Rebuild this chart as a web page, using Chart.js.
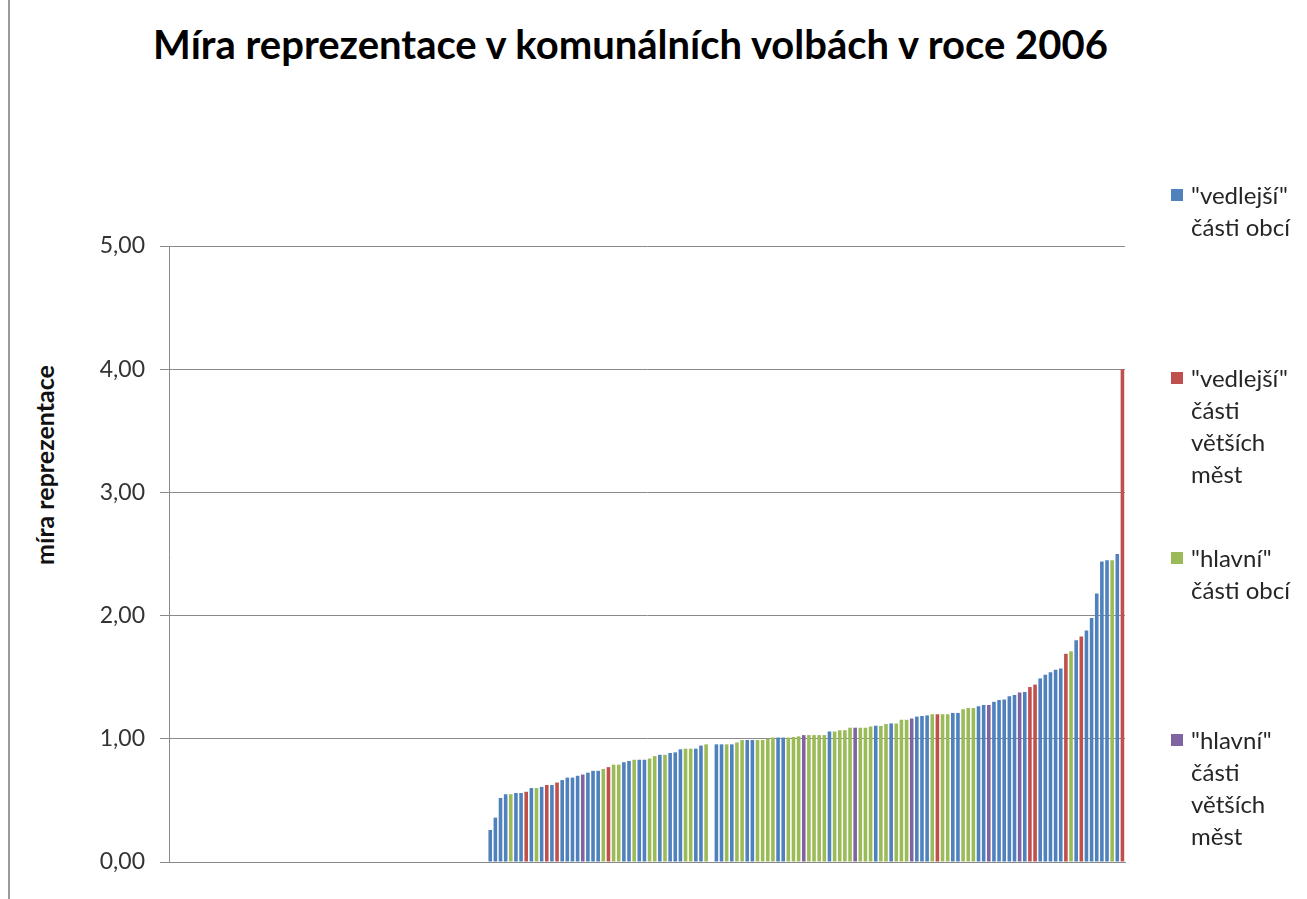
<!DOCTYPE html>
<html lang="cs">
<head>
<meta charset="utf-8">
<title>Míra reprezentace v komunálních volbách v roce 2006</title>
<script src="https://cdn.jsdelivr.net/npm/chart.js@4.4.1/dist/chart.umd.min.js"></script>
<style>
  html, body { margin: 0; padding: 0; background: #fff; }
  body { width: 1307px; height: 899px; position: relative; overflow: hidden; font-family: Lato, "Open Sans", sans-serif; }
  #frame { position: absolute; left: 8px; top: 0; width: 2px; height: 899px; background: #9a9a9a; }
  #title { position: absolute; left: 0; top: 20px; width: 1261px; margin: 0; text-align: center;
           font: bold 40px/48px Lato, sans-serif; color: #000; }
  #ytitle { position: absolute; left: 44px; top: 465px; margin: 0; white-space: nowrap;
            transform: translate(-50%, -50%) rotate(-90deg);
            font: bold 25px/30px Lato, sans-serif; color: #111; }
  #RepChart { position: absolute; left: 0; top: 0; }
  #legend { position: absolute; left: 1170px; top: 0; }
  .item { position: absolute; left: 0; width: 134px; font: 24px/32px Lato, sans-serif; color: #262626; }
  .item .box { position: absolute; left: 1px; top: 10px; width: 12px; height: 12px; }
  .item .txt { margin-left: 21px; width: 112px; }
</style>
</head>
<body>
<div id="frame"></div>
<h1 id="title">Míra reprezentace v komunálních volbách v roce 2006</h1>
<div id="ytitle">míra reprezentace</div>
<canvas id="RepChart" width="1307" height="899"></canvas>
<div id="legend"></div>
<script>
const seriesNames = ['"vedlejší" části obcí', '"vedlejší" části větších měst', '"hlavní" části obcí', '"hlavní" části větších měst'];
const seriesColors = ['#4F81BD', '#C0504D', '#9BBB59', '#8064A2'];
const yTicks = [0, 1, 2, 3, 4, 5];
// prázdné kategorie před prvním sloupcem
const emptyBefore = 62;
// seřazené hodnoty míry reprezentace
const values = [
  0.26, 0.36, 0.52, 0.55, 0.55, 0.56, 0.56, 0.57, 0.60, 0.60, 0.61, 0.625, 0.625, 0.645, 0.665, 0.685, 0.685, 0.70, 0.71, 0.725,
  0.74, 0.74, 0.755, 0.77, 0.79, 0.79, 0.81, 0.82, 0.83, 0.83, 0.83, 0.84, 0.86, 0.87, 0.87, 0.885, 0.89, 0.915, 0.92, 0.92,
  0.92, 0.945, 0.955, null, 0.955, 0.955, 0.955, 0.955, 0.97, 0.99, 0.99, 0.99, 0.99, 0.99, 1.00, 1.01, 1.01, 1.01, 1.01, 1.015,
  1.02, 1.03, 1.03, 1.03, 1.03, 1.03, 1.06, 1.06, 1.07, 1.07, 1.09, 1.09, 1.09, 1.09, 1.10, 1.105, 1.105, 1.12, 1.125, 1.125, 1.155,
  1.155, 1.165, 1.18, 1.185, 1.19, 1.20, 1.20, 1.20, 1.20, 1.21, 1.21, 1.24, 1.25, 1.25, 1.265, 1.275, 1.275, 1.30, 1.315, 1.32, 1.345,
  1.355, 1.375, 1.38, 1.42, 1.44, 1.49, 1.52, 1.54, 1.56, 1.57, 1.69, 1.71, 1.80, 1.83, 1.88, 1.98, 2.18, 2.44, 2.45, 2.45, 2.50, 4.00
];
// typ části obce pro každý sloupec (index do seriesNames)
const groups = [
  0, 0, 0, 0, 2, 0, 0, 1, 0, 2, 0, 1, 0, 1, 0, 0, 0, 0, 3, 0,
  0, 0, 2, 1, 2, 2, 0, 0, 2, 0, 0, 2, 2, 0, 2, 0, 0, 0, 2, 2,
  0, 0, 2, 0, 0, 0, 2, 0, 2, 2, 0, 0, 2, 2, 2, 2, 0, 0, 2, 2,
  2, 3, 2, 2, 2, 2, 0, 2, 2, 2, 2, 3, 2, 2, 2, 0, 2, 2, 0, 2, 2,
  2, 3, 0, 0, 0, 2, 1, 2, 2, 0, 0, 2, 2, 2, 0, 0, 3, 0, 0, 0, 0,
  0, 3, 0, 1, 1, 0, 0, 0, 0, 0, 1, 2, 0, 1, 0, 0, 0, 0, 0, 2, 0, 1
];

const labels = [];
for (let i = 0; i < emptyBefore + values.length; i++) labels.push('');

const datasets = seriesNames.map((name, s) => {
  const data = new Array(emptyBefore).fill(null);
  values.forEach((v, i) => data.push(groups[i] === s ? v : null));
  return {
    label: name,
    data: data,
    backgroundColor: seriesColors[s],
    borderWidth: 0,
    categoryPercentage: 1,
    barPercentage: 0.7
  };
});

const ctx = document.getElementById('RepChart').getContext('2d');
const chart = new Chart(ctx, {
  type: 'bar',
  data: { labels: labels, datasets: datasets },
  options: {
    responsive: false,
    animation: false,
    layout: { padding: { left: 0, right: 182, top: 246, bottom: 37 } },
    plugins: {
      legend: { display: false },
      title: { display: false },
      tooltip: { enabled: false }
    },
    scales: {
      x: {
        stacked: true,
        grid: { display: false, drawTicks: false },
        ticks: { display: false },
        border: { color: '#8a8a8a', width: 1 },
        afterFit: s => { s.height = 0; }
      },
      y: {
        stacked: true,
        min: 0,
        max: 5,
        afterBuildTicks: s => { s.ticks = yTicks.map(v => ({ value: v })); },
        ticks: {
          padding: 15,
          color: '#333',
          font: { family: 'Lato', size: 23 },
          callback: v => v.toFixed(2).replace('.', ',')
        },
        grid: { color: '#8a8a8a', tickLength: 9 },
        border: { color: '#8a8a8a' },
        afterFit: s => { s.width = 169; }
      }
    }
  }
});

// legenda vpravo, zalomená do více řádků jako v originále
const legendTops = [179, 362, 542, 724];
const legendEl = document.getElementById('legend');
chart.data.datasets.forEach((ds, i) => {
  const item = document.createElement('div');
  item.className = 'item';
  item.style.top = legendTops[i] + 'px';
  const box = document.createElement('span');
  box.className = 'box';
  box.style.background = ds.backgroundColor;
  const txt = document.createElement('div');
  txt.className = 'txt';
  txt.textContent = ds.label;
  item.appendChild(box);
  item.appendChild(txt);
  legendEl.appendChild(item);
});
</script>
</body>
</html>
